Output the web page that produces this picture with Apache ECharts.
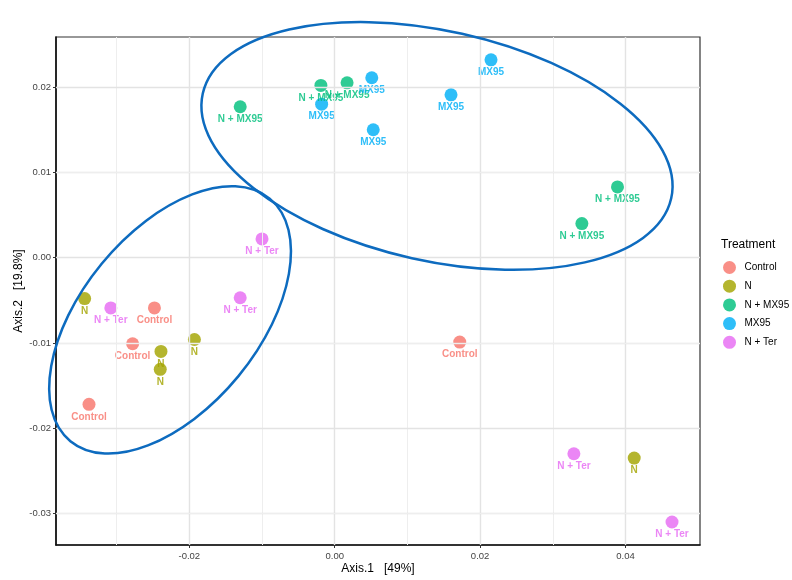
<!DOCTYPE html>
<html><head><meta charset="utf-8">
<script src="https://cdn.jsdelivr.net/npm/echarts@6/dist/echarts.min.js"></script>
<style>html,body{margin:0;padding:0;background:#fff}#c{width:792px;height:580px}</style>
</head><body><div id="c"></div>
<script>
const categories = ['Control', 'N', 'N + MX95', 'MX95', 'N + Ter'];
const colors = ['#F8766D', '#A3A500', '#00BF7D', '#00B0F6', '#E76BF3'];
const controlX = [-0.0248, -0.0278, -0.0338, 0.0172];
const controlY = [-0.0059, -0.0101, -0.0172, -0.0099];
const nX = [-0.0344, -0.0193, -0.0239, -0.0240, 0.0412];
const nY = [-0.0048, -0.0096, -0.0110, -0.0131, -0.0235];
const nmxX = [-0.0130, -0.0019, 0.0017, 0.0389, 0.0340];
const nmxY = [0.0177, 0.0202, 0.0205, 0.0083, 0.0040];
const mxX = [-0.0018, 0.0051, 0.0160, 0.0215, 0.0053];
const mxY = [0.0180, 0.0211, 0.0191, 0.0232, 0.0150];
const nterX = [-0.0308, -0.0130, -0.0100, 0.0329, 0.0464];
const nterY = [-0.0059, -0.0047, 0.0022, -0.0230, -0.0310];
const xTicks = [-0.02, 0, 0.02, 0.04];
const yTicks = [-0.03, -0.02, -0.01, 0, 0.01, 0.02];
const xMinor = [-0.03, -0.01, 0.01, 0.03];
const yMinor = [-0.025, -0.015, -0.005, 0.005, 0.015, 0.025];
const xRange = [-0.03834, 0.05025];
const yRange = [-0.0337, 0.02588];
// ellipse annotations: centre in data units
const ellipseCentres = [[0.01407, 0.01310], [-0.02265, -0.0073]];

const seriesX = [controlX, nX, nmxX, mxX, nterX];
const seriesY = [controlY, nY, nmxY, mxY, nterY];

const chart = echarts.init(document.getElementById('c'));
const FONT = 'Liberation Sans, Arial, sans-serif';

const gridLines = [];
xTicks.forEach(v => gridLines.push({xAxis: v, lineStyle: {color: '#e3e3e3', width: 1.4, type: 'solid'}}));
xMinor.forEach(v => gridLines.push({xAxis: v, lineStyle: {color: '#eeeeee', width: 1, type: 'solid'}}));
yTicks.forEach(v => gridLines.push({yAxis: v, lineStyle: {color: '#e3e3e3', width: 1.4, type: 'solid'}}));
yMinor.forEach(v => gridLines.push({yAxis: v, lineStyle: {color: '#eeeeee', width: 1, type: 'solid'}}));

const series = categories.map((name, i) => ({
  name: name,
  type: 'scatter',
  symbolSize: 13,
  itemStyle: {color: colors[i], opacity: 0.82},
  label: {
    show: true, position: 'bottom', distance: 1,
    formatter: name, color: colors[i], fontSize: 10, fontWeight: 'bold', fontFamily: FONT
  },
  emphasis: {disabled: true},
  z: 3,
  data: seriesX[i].map((x, j) => [x, seriesY[i][j]])
}));
series.unshift({
  type: 'scatter', data: [], silent: true, z: 1,
  markLine: {silent: true, symbol: 'none', label: {show: false}, animation: false, data: gridLines}
});

const axisCommon = {
  type: 'value',
  splitLine: {show: false},
  axisLine: {show: true, onZero: false, lineStyle: {color: '#111', width: 1.6}},
  axisTick: {show: true, length: 3, lineStyle: {color: '#333'}},
  axisLabel: {color: '#444', fontSize: 9.5, fontFamily: FONT, formatter: v => v.toFixed(2)},
  nameLocation: 'middle',
  nameMoveOverlap: false,
  nameTextStyle: {color: '#000', fontSize: 12, fontFamily: FONT}
};

chart.setOption({
  animation: false,
  backgroundColor: '#fff',
  grid: {left: 56, right: 92, top: 37, bottom: 33, show: true, borderColor: '#333', borderWidth: 1.2, backgroundColor: '#fff'},
  xAxis: Object.assign({}, axisCommon, {
    min: xRange[0], max: xRange[1],
    name: 'Axis.1   [49%]', nameGap: 18,
    axisTick: Object.assign({}, axisCommon.axisTick, {customValues: xTicks}),
    axisLabel: Object.assign({}, axisCommon.axisLabel, {customValues: xTicks, margin: 6})
  }),
  yAxis: Object.assign({}, axisCommon, {
    min: yRange[0], max: yRange[1],
    name: 'Axis.2   [19.8%]', nameGap: 31,
    axisTick: Object.assign({}, axisCommon.axisTick, {customValues: yTicks}),
    axisLabel: Object.assign({}, axisCommon.axisLabel, {customValues: yTicks, margin: 5})
  }),
  title: {text: 'Treatment', left: 716, top: 234, textStyle: {fontSize: 12, fontWeight: 'normal', color: '#000', fontFamily: FONT}},
  legend: {
    data: categories, orient: 'vertical', left: 718, top: 256,
    itemWidth: 20, itemHeight: 13, itemGap: 5.7, icon: 'circle',
    textStyle: {fontSize: 10, color: '#000', fontFamily: FONT},
    selectedMode: false
  },
  series: series
});

const c1 = chart.convertToPixel({gridIndex: 0}, ellipseCentres[0]);
const c2 = chart.convertToPixel({gridIndex: 0}, ellipseCentres[1]);
chart.setOption({
  graphic: [
    {type: 'ellipse', x: c1[0], y: c1[1], rotation: -0.22, shape: {cx: 0, cy: 0, rx: 240, ry: 115},
     style: {fill: null, stroke: '#0d6bbf', lineWidth: 2.5}, z: 100, silent: true},
    {type: 'ellipse', x: c2[0], y: c2[1], rotation: 0.883, shape: {cx: 0, cy: 0, rx: 157, ry: 88.5},
     style: {fill: null, stroke: '#0d6bbf', lineWidth: 2.5}, z: 100, silent: true}
  ]
});
</script></body></html>
